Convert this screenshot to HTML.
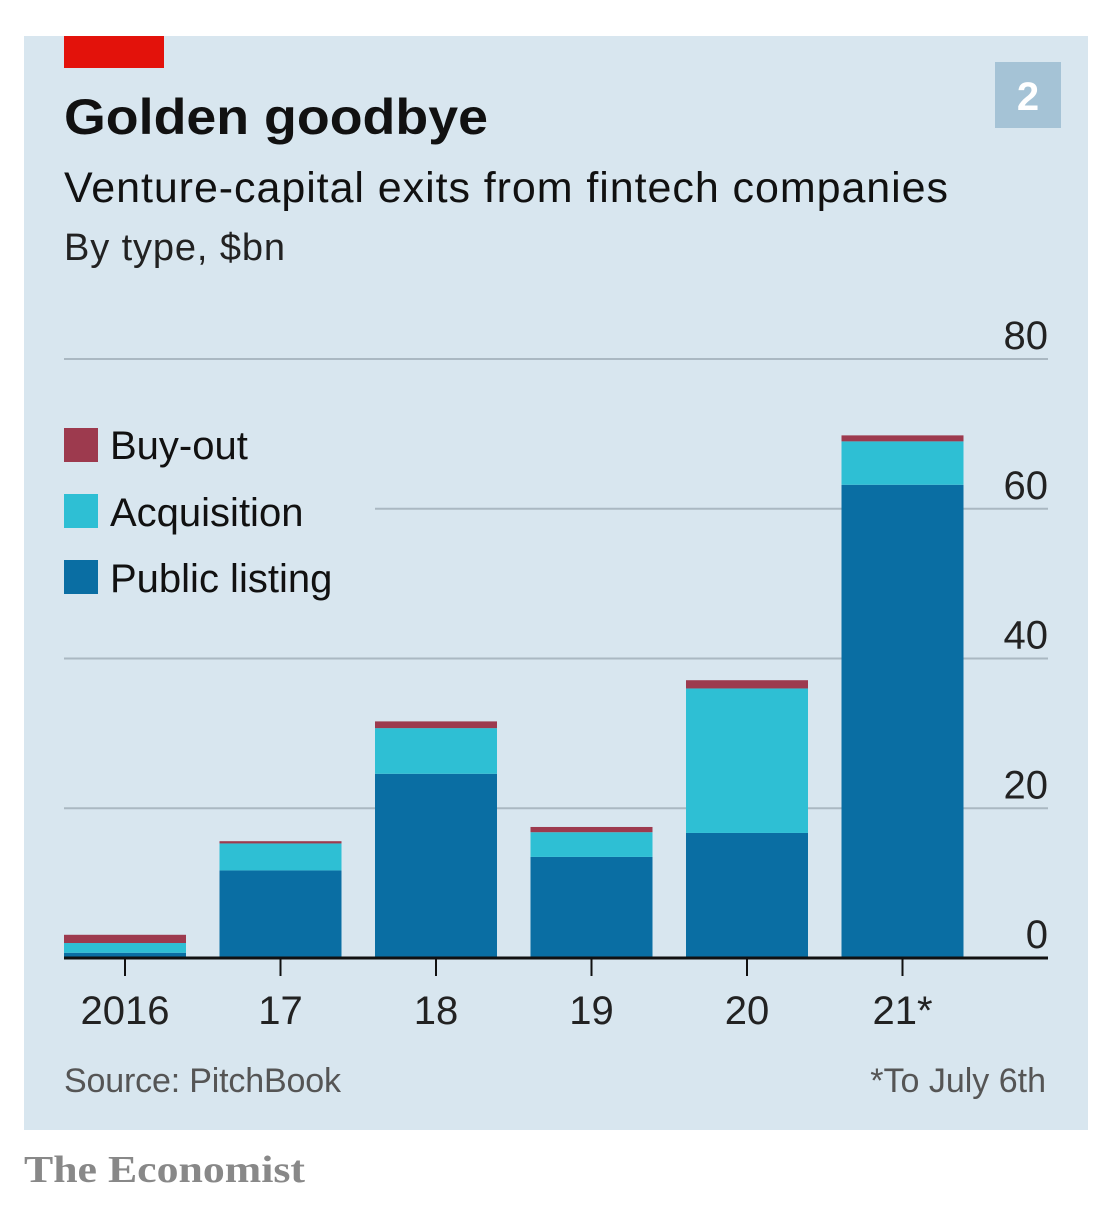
<!DOCTYPE html>
<html><head><meta charset="utf-8"><style>
body{margin:0;background:#fff;width:1102px;height:1207px;overflow:hidden;font-family:"Liberation Sans",sans-serif}
</style></head><body>
<svg width="1102" height="1207" xmlns="http://www.w3.org/2000/svg">
<rect x="24" y="36" width="1064" height="1094" fill="#d8e6ef"/>
<rect x="64" y="36" width="100" height="32" fill="#e3120b"/>
<rect x="995" y="62" width="66" height="66" fill="#a5c3d6"/>
<text x="1028" y="110" text-anchor="middle" font-size="40" font-weight="bold" fill="#fff">2</text>
<text x="64" y="134" font-size="50" font-weight="bold" fill="#111" textLength="424" lengthAdjust="spacingAndGlyphs">Golden goodbye</text>
<text x="64" y="202" font-size="43" fill="#111" textLength="884">Venture-capital exits from fintech companies</text>
<text x="64" y="260" font-size="38" fill="#222" textLength="221">By type, $bn</text>
<g id="grid"></g>
<g id="bars"></g>
<g id="axis"></g>
<g>
<rect x="64" y="428" width="34" height="34" fill="#9d3a4e"/>
<text x="110" y="459" font-size="40" fill="#111">Buy-out</text>
<rect x="64" y="494" width="34" height="34" fill="#2ebfd4"/>
<text x="110" y="526" font-size="40" fill="#111">Acquisition</text>
<rect x="64" y="560" width="34" height="34" fill="#0a6ea3"/>
<text x="110" y="592" font-size="40" fill="#111">Public listing</text>
</g>
<text x="64" y="1092" font-size="34" fill="#555" textLength="277">Source: PitchBook</text>
<text x="1046" y="1092" font-size="34" fill="#555" text-anchor="end">*To July 6th</text>
<text x="24" y="1182" font-size="38" font-weight="bold" fill="#888" font-family="Liberation Serif,serif" textLength="281" lengthAdjust="spacingAndGlyphs">The Economist</text>
</svg>
<script>
const categories=["2016","17","18","19","20","21*"];
const publicListing=[0.7,11.7,24.6,13.5,16.7,63.2];
const acquisition=[1.3,3.6,6.1,3.3,19.3,5.8];
const buyout=[1.1,0.3,0.9,0.7,1.1,0.8];
const yTicks=[0,20,40,60,80];
const NS="http://www.w3.org/2000/svg";
const y0=958,pxPer=599/80,x0=64,step=155.5,bw=122;
const y=v=>y0-v*pxPer;
const xc=i=>x0+i*step+bw/2;
function mk(t,a,p){const e=document.createElementNS(NS,t);for(const k in a)e.setAttribute(k,a[k]);p.appendChild(e);return e;}
const grid=document.getElementById('grid'),bars=document.getElementById('bars'),axis=document.getElementById('axis');
yTicks.forEach(t=>{
 if(t>0){const l=mk('line',{x1:t===60?375:64,x2:1048,y1:y(t),y2:y(t),stroke:'#aab8c2','stroke-width':2},grid);
 
 }
 const tx=mk('text',{x:1048,y:y(t)-10,'text-anchor':'end','font-size':40,fill:'#222'},grid);tx.textContent=t;
 
 
});
const series=[[publicListing,'#0a6ea3','public-listing'],[acquisition,'#2ebfd4','acquisition'],[buyout,'#9d3a4e','buyout']];
categories.forEach((c,i)=>{
 let base=0;
 series.forEach(([arr,col,nm])=>{
  const v=arr[i];
  const r=mk('rect',{x:x0+i*step,y:y(base+v),width:bw,height:v*pxPer,fill:col},bars);
  
  
  base+=v;
 });
 const tk=mk('line',{x1:xc(i),x2:xc(i),y1:y0,y2:y0+18,stroke:'#111','stroke-width':2},axis);
 
 
 const lb=mk('text',{x:xc(i),y:1024,'text-anchor':'middle','font-size':40,fill:'#222'},axis);lb.textContent=c;
 
 
});
const ax=mk('line',{x1:64,x2:1048,y1:y0,y2:y0,stroke:'#111','stroke-width':3},axis);


</script>
</body></html>
